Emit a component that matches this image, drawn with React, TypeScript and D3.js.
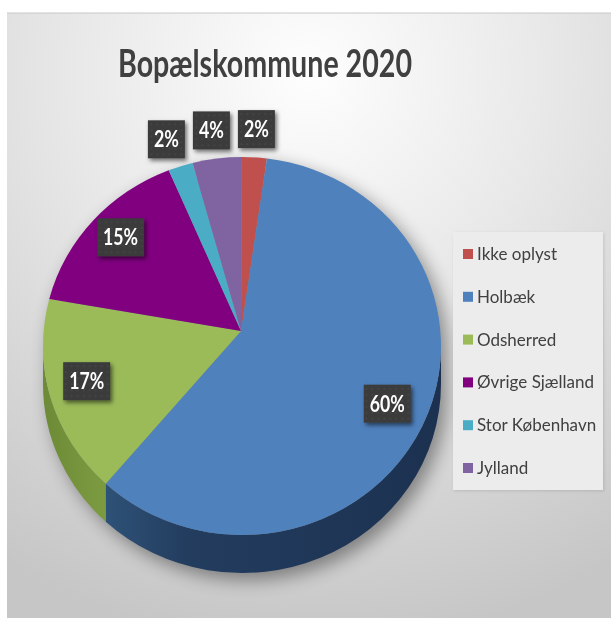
import React from "react";
import * as d3 from "d3";

const title = "Bopælskommune 2020";
const categories = ["Ikke oplyst", "Holbæk", "Odsherred", "Øvrige Sjælland", "Stor København", "Jylland"];
const values = [2, 60, 17, 15, 2, 4];
const labels = ["2%", "60%", "17%", "15%", "2%", "4%"];
const colors = ["#c0504d", "#4f81bd", "#9bbb59", "#800080", "#4bacc6", "#8064a2"];

const W = 611;
const H = 623;
const cx = 242, cy = 346, rx = 199, ry = 189, depth = 38;
const apex: [number, number] = [241, 331];

function P(t: number, dy = 0): [number, number] {
  return [cx + rx * Math.sin(t), cy - ry * Math.cos(t) + dy];
}
function f(p: [number, number]) {
  return `${p[0].toFixed(2)},${p[1].toFixed(2)}`;
}

export default function App() {
  const pie = d3.pie<number>().sort(null).startAngle(0).endAngle(2 * Math.PI);
  const arcs = pie(values);
  const color = d3.scaleOrdinal<string, string>().domain(categories).range(colors);

  const topPath = (a: number, b: number) => {
    const large = b - a > Math.PI ? 1 : 0;
    return `M${f(apex)}L${f(P(a))}A${rx},${ry} 0 ${large} 1 ${f(P(b))}Z`;
  };
  const sidePath = (a: number, b: number) => {
    const large = b - a > Math.PI ? 1 : 0;
    return `M${f(P(a))}A${rx},${ry} 0 ${large} 1 ${f(P(b))}L${f(P(b, depth))}A${rx},${ry} 0 ${large} 0 ${f(P(a, depth))}Z`;
  };
  const outline = `M${f(P(-Math.PI / 2))}A${rx},${ry} 0 0 1 ${f(P(Math.PI / 2))}L${f(P(Math.PI / 2, depth))}A${rx},${ry} 0 0 1 ${f(P(-Math.PI / 2, depth))}Z`;

  // label placement
  const lc: [number, number] = [(apex[0] + cx) / 2, (apex[1] + cy) / 2];
  const boxH = 38;
  type L = { x: number; y: number; w: number; text: string; outside: boolean };
  const labs: L[] = arcs.map((d, i) => {
    const m = (d.startAngle + d.endAngle) / 2;
    const outside = d.value < 8;
    const k = outside ? 1.15 : 0.81;
    const x = outside ? cx + rx * k * Math.sin(m) : lc[0] + rx * k * Math.sin(m);
    const y = outside ? cy - ry * k * Math.cos(m) : lc[1] - ry * k * Math.cos(m);
    const w = labels[i].length > 2 ? 47 : 37;
    return { x, y, w, text: labels[i], outside };
  });
  const outs = labs.filter((l) => l.outside).sort((a, b) => b.x - a.x);
  for (let i = 1; i < outs.length; i++) {
    const prev = outs[i - 1];
    const cur = outs[i];
    const maxX = prev.x - prev.w / 2 - 8 - cur.w / 2;
    if (cur.x > maxX) cur.x = maxX;
  }

  const legendY = d3.scalePoint<string>().domain(categories).range([254, 468]);

  return (
    <svg width={W} height={H} style={{ position: "fixed", left: 0, top: 0 }} xmlns="http://www.w3.org/2000/svg">
      <defs>
        <radialGradient id="bg" cx="50%" cy="10%" r="95%" fx="50%" fy="10%">
          <stop offset="0" stopColor="#fefefe" />
          <stop offset="0.4" stopColor="#e9e9e9" />
          <stop offset="1" stopColor="#c6c6c6" />
        </radialGradient>
        <linearGradient id="sideBlue" x1={100} x2={441} y1={0} y2={0} gradientUnits="userSpaceOnUse">
          <stop offset="0" stopColor="#2f5379" />
          <stop offset="0.25" stopColor="#233d5f" />
          <stop offset="1" stopColor="#1c3150" />
        </linearGradient>
        <linearGradient id="sideGreen" x1={43} x2={100} y1={0} y2={0} gradientUnits="userSpaceOnUse">
          <stop offset="0" stopColor="#6d8a36" />
          <stop offset="1" stopColor="#7b9a40" />
        </linearGradient>
        <filter id="pieShadow" x="-20%" y="-20%" width="140%" height="140%">
          <feGaussianBlur stdDeviation="9" />
        </filter>
        <filter id="boxShadow" x="-30%" y="-30%" width="160%" height="160%">
          <feDropShadow dx="2" dy="2.5" stdDeviation="2" floodColor="#000" floodOpacity="0.55" />
        </filter>
        <filter id="legShadow" x="-10%" y="-10%" width="120%" height="120%">
          <feDropShadow dx="1" dy="1" stdDeviation="1.5" floodColor="#000" floodOpacity="0.12" />
        </filter>
        <pattern id="dots" width="6" height="6" patternUnits="userSpaceOnUse">
          <rect width="6" height="6" fill="#3a3a3a" />
          <circle cx="3" cy="3" r="0.7" fill="#555" />
        </pattern>
      </defs>

      <rect x={7} y={13} width={W - 7} height={605} fill="url(#bg)" />
      <line x1={7} x2={W} y1={13} y2={13} stroke="#c8c8c8" strokeWidth={1} />

      <text
        x={265}
        y={77}
        textAnchor="middle"
        fontFamily="Lato, 'Open Sans', sans-serif"
        fontWeight={700}
        fontSize={38}
        fill="#404040"
        textLength={294}
        lengthAdjust="spacingAndGlyphs"
      >
        {title}
      </text>

      <path d={outline} transform="translate(6,7)" fill="#000" opacity={0.4} filter="url(#pieShadow)" />

      {arcs.map((d, i) => {
        const a = Math.max(d.startAngle, Math.PI / 2);
        const b = Math.min(d.endAngle, (3 * Math.PI) / 2);
        if (b <= a) return null;
        const fill = categories[i] === "Holbæk" ? "url(#sideBlue)" : categories[i] === "Odsherred" ? "url(#sideGreen)" : (d3.color(color(categories[i]))!.darker(1).toString());
        return <path key={"s" + i} d={sidePath(a, b)} fill={fill} />;
      })}

      {arcs.map((d, i) => (
        <path key={"t" + i} d={topPath(d.startAngle, d.endAngle)} fill={color(categories[i])} />
      ))}

      {labs.map((l, i) => (
        <g key={"l" + i} transform={`translate(${l.x.toFixed(1)},${l.y.toFixed(1)})`}>
          <rect x={-l.w / 2} y={-boxH / 2} width={l.w} height={boxH} fill="url(#dots)" filter="url(#boxShadow)" />
          <text
            x={0}
            y={8}
            textAnchor="middle"
            fontFamily="Lato, 'Open Sans', sans-serif"
            fontWeight={700}
            fontSize={23}
            fill="#ffffff"
            textLength={l.w - 12}
            lengthAdjust="spacingAndGlyphs"
          >
            {l.text}
          </text>
        </g>
      ))}

      <rect x={453} y={232} width={150} height={258} fill="#ececec" filter="url(#legShadow)" />
      {categories.map((c, i) => (
        <g key={"g" + i} transform={`translate(463,${legendY(c)})`}>
          <rect x={0} y={-5} width={10} height={10} fill={color(c)} />
          <text x={14} y={6} fontFamily="Lato, 'Open Sans', sans-serif" fontSize={17} fill="#404040">
            {c}
          </text>
        </g>
      ))}
    </svg>
  );
}
